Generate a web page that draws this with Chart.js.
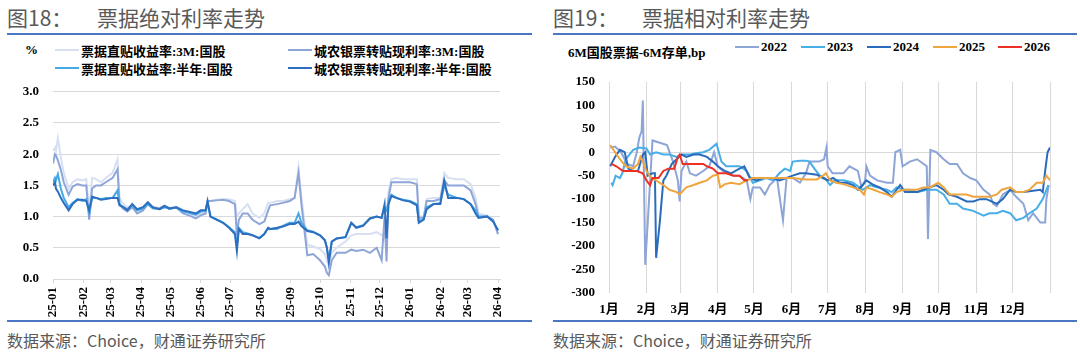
<!DOCTYPE html>
<html>
<head>
<meta charset="utf-8">
<script src="https://cdn.jsdelivr.net/npm/chart.js@4.4.1/dist/chart.umd.min.js"></script>
<style>
  html, body { margin: 0; padding: 0; background: #fff; }
  body { width: 1080px; height: 353px; position: relative; overflow: hidden; font-family: "Noto Sans CJK SC", sans-serif; }
  .title { position: absolute; top: 3px; font-size: 21px; line-height: 28px; color: #595959; white-space: nowrap; }
  .rule { position: absolute; height: 2px; background: #4a76c4; }
  .source { position: absolute; top: 329px; font-size: 16px; line-height: 22px; color: #595959; white-space: nowrap; }
  .lg { position: absolute; height: 16px; display: flex; align-items: center; white-space: nowrap;
        font: bold 13px "Liberation Serif", "Noto Sans CJK SC", serif; color: #000; }
  .sw { width: 24px; height: 2.5px; margin-right: 2px; }
  .box { position: absolute; }
</style>
</head>
<body>
<div class="title" style="left:7px">图18：</div>
<div class="title" style="left:97px">票据绝对利率走势</div>
<div class="title" style="left:553px">图19：</div>
<div class="title" style="left:642px">票据相对利率走势</div>
<div class="rule" style="left:7px;top:33px;width:525px"></div>
<div class="rule" style="left:553px;top:33px;width:524px"></div>
<div class="rule" style="left:7px;top:320px;width:525px"></div>
<div class="rule" style="left:553px;top:320px;width:524px"></div>
<div class="source" style="left:7px">数据来源：Choice，财通证券研究所</div>
<div class="source" style="left:553px">数据来源：Choice，财通证券研究所</div>

<div id="absLegend"></div>
<div id="relLegend"></div>

<div class="box" style="left:0;top:70px;width:540px;height:252px"><canvas id="absChart" width="540" height="252"></canvas></div>
<div class="box" style="left:540px;top:60px;width:540px;height:262px"><canvas id="relChart" width="540" height="262"></canvas></div>

<script>
// ---------- 图18 data: days after 2025-01-01 ----------
const absDays = [0,2,3,5,8,11,16,20,25,30,34,37,40,44,49,54,61,66,68,72,76,81,86,92,97,102,109,114,119,126,
  133,139,146,151,156,158,161,167,174,180,186,188,190,194,199,204,211,216,220,222,229,235,242,247,251,254,
  260,266,273,278,280,282,285,290,299,305,310,317,324,331,336,339,341,343,346,351,358,365,372,374,379,382,
  389,396,400,404,413,420,427,432,435,444,450,455];
const zhitie3M = [2.05,2.1,2.05,2.26,1.95,1.7,1.45,1.55,1.6,1.58,1.6,1.1,1.62,1.6,1.55,1.62,1.7,1.92,1.3,1.2,
  1.15,1.18,1.1,1.15,1.2,1.16,1.14,1.18,1.14,1.16,1.1,1.06,1.0,1.05,1.08,1.25,1.25,1.27,1.28,1.28,1.25,1.0,
  1.05,1.12,1.2,1.05,0.98,1.05,1.22,1.22,1.25,1.25,1.28,1.3,1.78,1.3,0.55,0.52,0.48,0.4,0.3,0.2,0.42,0.5,
  0.6,0.7,0.72,0.72,0.72,0.75,0.7,0.75,0.5,1.4,1.6,1.62,1.6,1.6,1.6,1.0,1.0,1.28,1.3,1.3,1.7,1.62,1.6,1.6,
  1.52,1.3,1.05,1.02,0.95,0.72];
const chengnong3M = [1.85,2.0,1.98,1.9,1.75,1.55,1.35,1.48,1.52,1.5,1.5,0.95,1.45,1.5,1.5,1.55,1.62,1.76,1.2,
  1.12,1.08,1.15,1.05,1.1,1.2,1.13,1.13,1.17,1.12,1.15,1.05,1.02,0.97,1.02,1.05,1.25,1.25,1.26,1.27,1.25,1.2,
  0.7,0.95,1.05,1.05,0.95,0.88,0.92,1.1,1.18,1.2,1.22,1.25,1.3,1.7,1.2,0.38,0.4,0.3,0.2,0.1,0.06,0.3,0.42,
  0.42,0.47,0.45,0.47,0.42,0.5,0.3,1.0,0.28,1.3,1.55,1.55,1.55,1.55,1.52,0.98,0.98,1.25,1.25,1.28,1.58,1.5,
  1.5,1.5,1.42,1.2,1.0,1.0,0.95,0.72];
const zhitie6M = [1.55,1.62,1.58,1.68,1.45,1.3,1.15,1.22,1.28,1.25,1.28,1.05,1.3,1.3,1.28,1.3,1.3,1.42,1.2,
  1.15,1.12,1.18,1.1,1.13,1.2,1.14,1.12,1.15,1.13,1.14,1.08,1.06,1.03,1.08,1.1,1.22,1.0,0.96,0.9,0.83,0.75,
  0.55,0.82,0.75,0.73,0.7,0.66,0.72,0.82,0.8,0.8,0.85,0.9,0.9,1.05,0.9,0.78,0.76,0.7,0.62,0.5,0.32,0.6,0.65,
  0.67,0.9,0.83,0.86,0.97,1.0,0.98,1.15,1.1,1.25,1.35,1.3,1.27,1.25,1.2,0.92,0.97,1.15,1.2,1.22,1.5,1.35,
  1.3,1.28,1.2,1.1,1.0,1.0,0.92,0.78];
const chengnong6M = [1.5,1.55,1.45,1.4,1.3,1.22,1.1,1.2,1.27,1.27,1.25,1.1,1.32,1.3,1.27,1.28,1.3,1.3,1.18,
  1.15,1.1,1.2,1.12,1.15,1.23,1.15,1.12,1.17,1.13,1.15,1.1,1.08,1.05,1.1,1.1,1.25,1.0,0.95,0.9,0.82,0.72,
  0.45,0.8,0.72,0.72,0.7,0.65,0.72,0.82,0.8,0.82,0.84,0.88,0.88,0.92,0.85,0.77,0.75,0.7,0.62,0.5,0.26,0.6,
  0.65,0.67,0.9,0.82,0.85,0.97,1.0,0.98,1.2,0.65,1.2,1.33,1.3,1.26,1.24,1.18,0.9,0.95,1.12,1.2,1.2,1.58,1.3,
  1.3,1.28,1.2,1.05,0.98,1.0,0.92,0.78];
const absLabels = ["票据直贴收益率:3M:国股", "城农银票转贴现利率:3M:国股", "票据直贴收益率:半年:国股", "城农银票转贴现利率:半年:国股"];
const absMonthDays = [0,31,59,90,120,151,181,212,243,273,304,334,365,396,424,455];
const absMonthLabels = ["25-01","25-02","25-03","25-04","25-05","25-06","25-07","25-08","25-09","25-10","25-11","25-12","26-01","26-02","26-03","26-04"];

// ---------- 图19 data: day of year, bp ----------
const days2022 = [1,5,10,15,20,23,25,27,28,30,36,42,48,53,57,58.5,60,64,67,72,78,83,87,90,94,103,108,114,117,119,
  125,129,133,139,144,147,152,158,163,166,174,178,180,181,185,194,199,206,209,212,213,216,222,230,235,237,241,
  243,249,255,263,264,266,271,277,282,288,293,299,304,310,315,318,321,326,332,337,343,347,351,357,361,362,364];
const vals2022 = [10,12,0,-25,-30,0,30,45,110,-240,25,20,15,-20,-60,-105,-40,-20,-45,-50,-40,-30,0,-30,-40,-50,
  -50,-60,-100,-75,-75,-90,-70,-55,-145,-55,-55,-65,-45,-20,-20,-15,10,-30,-45,-45,-30,-40,-75,-60,-30,-50,-60,
  -65,-65,0,5,-30,-20,-15,-30,-185,5,0,-15,-25,-25,-45,-55,-60,-80,-90,-110,-115,-90,-80,-95,-110,-145,-130,
  -150,-150,-100,-70];
const days2023 = [2,3,5.5,9,11,14,20,25,31,34,39,45,50,56,61,67,72,78,83,89,93,97,108,114,119,125,130,136,141,145.5,
  150,152,158,163,166,170,174.5,178.6,183,187,194,202,210,216,221.6,230,234,238,243.5,249,255,263,271,277,282,
  288,293,301.5,310,315,321,326,332,337,343,348,354,359,363.6];
const vals2023 = [-65,-70,-50,-55,-45,-15,5,10,8,-5,0,-5,-5,-10,-5,-5,-2,0,5,18,-20,-30,-30,-40,-65,-60,-55,-60,
  -45,-35,-40,-20,-18,-18,-20,-35,-50,-55,-70,-60,-60,-65,-80,-70,-75,-80,-85,-75,-80,-80,-85,-80,-80,-90,-110,
  -110,-120,-125,-135,-130,-130,-125,-130,-145,-140,-130,-120,-100,-70];
const days2024 = [1,5,9,13,16,20,24,28,30,32,36,38,39,42,45,47.5,52,56,60,64,70,75,81,86,90,96,101,108,112,116.5,
  122,127.5,136,141,147,152,158,163,172,177,181,185.5,191,196.6,202,206,210,213,219,224,230,234,238,241,245,255,
  260,265.6,271,277,281,288,296,301.5,307,312.5,321,326,332,337,343,348,357,359,361,363,365];
const vals2024 = [-30,-10,5,0,-35,-40,-40,-5,0,-50,-45,-45,-225,-150,-60,-50,-25,-15,-5,-10,-5,-5,-10,-20,-30,-40,
  -45,-35,-30,-55,-60,-55,-55,-60,-55,-50,-45,-45,-48,-55,-60,-55,-65,-65,-70,-80,-70,-60,-70,-75,-85,-95,-80,
  -70,-85,-85,-80,-75,-70,-80,-90,-95,-105,-105,-100,-100,-110,-100,-80,-85,-85,-83,-80,-85,-40,0,10];
const days2025 = [1,5,9,14,20,24,26,28,31,35,39,45,50,56,58.5,64,70,75,81,86,90,92,96,101,108,114,119,130,141,152,
  163,172,177,179.5,183,188,194,202,207.6,211,213,219,224,230,234,238,243.5,255,260,265.6,272.5,277,282,288,296,
  301.5,315,321,325,332,337,343,348,354,359,362,365];
const vals2025 = [15,0,-15,-30,-35,-25,-10,-20,-40,-55,-60,-70,-80,-85,-90,-75,-70,-65,-60,-50,-48,-75,-68,-65,-68,
  -60,-55,-55,-55,-55,-58,-58,-50,-45,-60,-65,-68,-75,-80,-90,-75,-80,-85,-90,-95,-85,-80,-80,-75,-75,-65,-75,-90,
  -90,-90,-95,-95,-90,-80,-75,-85,-85,-80,-65,-65,-50,-60];
const days2026 = [2,6,11.6,23,28,31,34,36,41,45,49,54,57,58.5,61,72,78,81,86,90,97,103,108,112,115];
const vals2026 = [-25,-30,-40,-40,-45,-60,-70,-55,-55,-40,-35,-35,-10,-5,-25,-25,-25,-30,-35,-45,-45,-50,-50,-60,-60];
const relYears = ["2022","2023","2024","2025","2026"];
const relMonthDays = [0,31,59,90,120,151,181,212,243,273,304,334,365];
const relMonthLabels = ["1月","2月","3月","4月","5月","6月","7月","8月","9月","10月","11月","12月",""];

// styles
const absColors = ["#d7dff2", "#8ea5d8", "#45a9e6", "#2e6ebe"];
const relColors = ["#8ea5d8", "#47aee8", "#2a6cbb", "#eea53e", "#ee3124"];
const gridGray = "#d9d9d9";

Chart.defaults.font.family = '"Liberation Serif", "Noto Sans CJK SC", serif';
Chart.defaults.font.size = 13;
Chart.defaults.font.weight = "bold";
Chart.defaults.color = "#000";

const pts = (xs, ys) => xs.map((x, i) => ({ x: x, y: ys[i] }));

// ---------- 图18 ----------
const absValues = [zhitie3M, chengnong3M, zhitie6M, chengnong6M];
new Chart(document.getElementById("absChart"), {
  type: "line",
  data: {
    datasets: absValues.map((vals, i) => ({
      label: absLabels[i],
      data: pts(absDays, vals),
      borderColor: absColors[i],
      order: 4 - i
    }))
  },
  options: {
    responsive: false,
    animation: false,
    devicePixelRatio: 1,
    layout: { padding: { top: 11, right: 40, left: 0, bottom: 0 } },
    plugins: { legend: { display: false }, tooltip: { enabled: false } },
    elements: { point: { radius: 0 }, line: { borderWidth: 2, tension: 0 } },
    scales: {
      x: {
        type: "linear", min: 0, max: 457,
        afterBuildTicks: s => { s.ticks = absMonthDays.map(v => ({ value: v })); },
        afterFit: s => { s.height = 43; },
        ticks: {
          autoSkip: false, minRotation: 90, maxRotation: 90, padding: 4,
          callback: v => absMonthLabels[absMonthDays.indexOf(v)]
        },
        grid: { drawOnChartArea: false, drawTicks: true, tickLength: 4, color: gridGray },
        border: { color: gridGray }
      },
      y: {
        min: 0, max: 3,
        afterFit: s => { s.width = 53; },
        ticks: { stepSize: 0.5, padding: 14, callback: v => v.toFixed(1) },
        grid: { color: gridGray, drawTicks: false },
        border: { display: false }
      }
    }
  }
});

// ---------- 图19 ----------
const relDays = [days2022, days2023, days2024, days2025, days2026];
const relValues = [vals2022, vals2023, vals2024, vals2025, vals2026];
new Chart(document.getElementById("relChart"), {
  type: "line",
  data: {
    datasets: relYears.map((y, i) => ({
      label: y,
      data: pts(relDays[i], relValues[i]),
      borderColor: relColors[i],
      order: 5 - i
    }))
  },
  options: {
    responsive: false,
    animation: false,
    devicePixelRatio: 1,
    layout: { padding: { top: 13, right: 30, left: 0, bottom: 0 } },
    plugins: { legend: { display: false }, tooltip: { enabled: false } },
    elements: { point: { radius: 0 }, line: { borderWidth: 2, tension: 0 } },
    scales: {
      x: {
        type: "linear", min: 0, max: 365,
        afterBuildTicks: s => { s.ticks = relMonthDays.map(v => ({ value: v })); },
        afterFit: s => { s.height = 29; },
        ticks: {
          autoSkip: false, maxRotation: 0, padding: 9,
          callback: v => relMonthLabels[relMonthDays.indexOf(v)]
        },
        grid: { drawTicks: false, color: gridGray },
        border: { display: false }
      },
      y: {
        min: -300, max: 150,
        afterFit: s => { s.width = 69; },
        ticks: { stepSize: 50, padding: 14 },
        grid: { drawTicks: false, color: c => (c.tick && c.tick.value === 0 ? gridGray : "rgba(0,0,0,0)") },
        border: { display: false }
      }
    }
  }
});

// ---------- legends ----------
function legendItem(parent, left, top, color, text) {
  const el = document.createElement("div");
  el.className = "lg";
  el.style.left = left + "px";
  el.style.top = top + "px";
  if (color) {
    const sw = document.createElement("span");
    sw.className = "sw";
    sw.style.background = color;
    el.appendChild(sw);
  }
  el.appendChild(document.createTextNode(text));
  parent.appendChild(el);
}
const absLeg = document.getElementById("absLegend");
legendItem(absLeg, 25, 42, null, "%");
const absPos = [[55, 42], [288, 42], [55, 60], [288, 60]];
absLabels.forEach((t, i) => legendItem(absLeg, absPos[i][0], absPos[i][1], absColors[i], t));

const relLeg = document.getElementById("relLegend");
legendItem(relLeg, 568, 43, null, "6M国股票据-6M存单,bp");
const relX = [735, 801, 867, 933, 998];
relYears.forEach((t, i) => legendItem(relLeg, relX[i], 39, relColors[i], t));
</script>
</body>
